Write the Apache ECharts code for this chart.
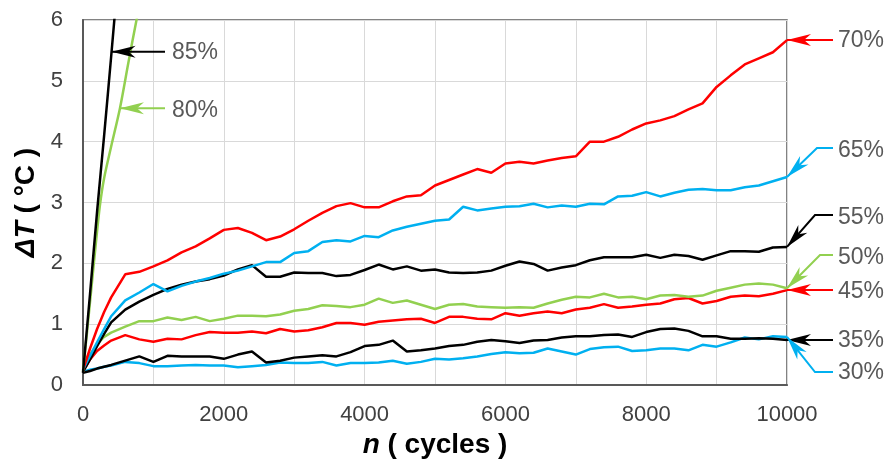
<!DOCTYPE html>
<html>
<head>
<meta charset="utf-8">
<script src="https://cdn.jsdelivr.net/npm/echarts@6/dist/echarts.min.js"></script>
<style>
  html, body { margin: 0; padding: 0; background: #ffffff; }
  #chart { width: 892px; height: 463px; }
</style>
</head>
<body>
<div id="chart"></div>
<script>
// Number of cycles at which ΔT was sampled (shared by the 30 % … 70 % curves)
const cycles = [0, 100, 200, 300, 400, 600, 800, 1000, 1200, 1400, 1600, 1800, 2000, 2200, 2400, 2600, 2800, 3000,
  3200, 3400, 3600, 3800, 4000, 4200, 4400, 4600, 4800, 5000, 5200, 5400, 5600, 5800, 6000, 6200, 6400, 6600,
  6800, 7000, 7200, 7400, 7600, 7800, 8000, 8200, 8400, 8600, 8800, 9000, 9200, 9400, 9600, 9800, 10000];

// Temperature rise ΔT (°C) for each load level
const dT70 = [0.25, 0.6, 0.92, 1.2, 1.44, 1.82, 1.86, 1.95, 2.05, 2.18, 2.28, 2.41, 2.55, 2.58, 2.5, 2.38, 2.44, 2.56,
  2.7, 2.83, 2.94, 2.99, 2.92, 2.92, 3.02, 3.1, 3.12, 3.28, 3.37, 3.46, 3.55, 3.49, 3.64, 3.67, 3.64, 3.69,
  3.73, 3.76, 4.0, 4.0, 4.08, 4.2, 4.3, 4.35, 4.42, 4.53, 4.63, 4.9, 5.09, 5.27, 5.37, 5.47, 5.67];
const dT65 = [0.25, 0.48, 0.7, 0.92, 1.13, 1.39, 1.52, 1.66, 1.54, 1.63, 1.70, 1.76, 1.83, 1.88, 1.95, 2.02, 2.02, 2.17,
  2.2, 2.35, 2.38, 2.36, 2.45, 2.43, 2.54, 2.6, 2.65, 2.7, 2.72, 2.93, 2.87, 2.9, 2.93, 2.94, 2.98, 2.92,
  2.95, 2.93, 2.98, 2.97, 3.1, 3.11, 3.17, 3.1, 3.16, 3.21, 3.22, 3.2, 3.2, 3.25, 3.28, 3.35, 3.42];
const dT55 = [0.22, 0.42, 0.64, 0.84, 1.03, 1.24, 1.37, 1.48, 1.58, 1.65, 1.70, 1.74, 1.8, 1.9, 1.97, 1.78, 1.78, 1.85,
  1.84, 1.84, 1.79, 1.81, 1.89, 1.98, 1.9, 1.95, 1.88, 1.9, 1.85, 1.84, 1.85, 1.88, 1.96, 2.03, 1.99, 1.88,
  1.93, 1.97, 2.05, 2.1, 2.1, 2.1, 2.14, 2.09, 2.14, 2.12, 2.06, 2.13, 2.2, 2.2, 2.19, 2.26, 2.27];
const dT50 = [0.22, 0.5, 0.67, 0.79, 0.86, 0.96, 1.05, 1.05, 1.11, 1.07, 1.12, 1.05, 1.09, 1.14, 1.14, 1.13, 1.16, 1.22,
  1.25, 1.31, 1.3, 1.28, 1.32, 1.42, 1.35, 1.39, 1.32, 1.25, 1.32, 1.33, 1.29, 1.28, 1.27, 1.28, 1.27, 1.34,
  1.40, 1.45, 1.44, 1.5, 1.44, 1.45, 1.41, 1.47, 1.48, 1.45, 1.47, 1.55, 1.6, 1.65, 1.67, 1.65, 1.59];
const dT45 = [0.22, 0.42, 0.56, 0.65, 0.73, 0.82, 0.75, 0.71, 0.76, 0.75, 0.82, 0.87, 0.86, 0.86, 0.88, 0.85, 0.92, 0.88,
  0.9, 0.95, 1.02, 1.02, 0.99, 1.04, 1.06, 1.08, 1.09, 1.02, 1.12, 1.12, 1.09, 1.08, 1.18, 1.14, 1.18, 1.21,
  1.18, 1.24, 1.27, 1.33, 1.27, 1.29, 1.32, 1.34, 1.41, 1.43, 1.34, 1.38, 1.45, 1.47, 1.46, 1.5, 1.56];
const dT35 = [0.2, 0.23, 0.27, 0.3, 0.33, 0.4, 0.47, 0.38, 0.48, 0.47, 0.47, 0.47, 0.43, 0.5, 0.55, 0.37, 0.4, 0.45,
  0.47, 0.49, 0.47, 0.54, 0.64, 0.66, 0.73, 0.55, 0.57, 0.6, 0.64, 0.66, 0.71, 0.74, 0.72, 0.69, 0.73, 0.74,
  0.78, 0.8, 0.8, 0.82, 0.83, 0.79, 0.87, 0.92, 0.93, 0.89, 0.8, 0.8, 0.76, 0.76, 0.77, 0.76, 0.74];
const dT30 = [0.22, 0.25, 0.27, 0.3, 0.32, 0.38, 0.36, 0.31, 0.31, 0.32, 0.33, 0.32, 0.32, 0.29, 0.31, 0.33, 0.37, 0.36,
  0.36, 0.38, 0.32, 0.36, 0.36, 0.37, 0.4, 0.35, 0.38, 0.43, 0.42, 0.44, 0.47, 0.51, 0.54, 0.52, 0.53, 0.6,
  0.55, 0.5, 0.59, 0.62, 0.63, 0.56, 0.57, 0.6, 0.6, 0.57, 0.66, 0.63, 0.7, 0.78, 0.75, 0.8, 0.79];

// The two highest load levels heat up quickly and leave the plotted range early
const cycles85 = [0, 100, 200, 300, 400, 460];
const dT85 = [0.2, 1.5, 2.85, 4.1, 5.4, 6.2];
const cycles80 = [0, 60, 120, 180, 240, 300, 400, 525, 645, 760, 800];
const dT80 = [0.22, 0.9, 1.6, 2.3, 2.95, 3.4, 3.92, 4.55, 5.3, 6.0, 6.2];

// Axis ranges and tick spacing
const xMin = 0, xMax = 10000, xStep = 1000, xLabelStep = 2000;
const yMin = 0, yMax = 6, yStep = 1;

const RED = '#ff0000', BLUE = '#00b0f0', GREEN = '#92d050', BLACK = '#000000';
const FONT = "'Liberation Sans', Arial, sans-serif";

const pairs = (xs, ys) => xs.map((x, i) => [x, ys[i]]);

const curves = [
  { name: '30%', x: cycles, y: dT30, color: BLUE },
  { name: '35%', x: cycles, y: dT35, color: BLACK },
  { name: '45%', x: cycles, y: dT45, color: RED },
  { name: '50%', x: cycles, y: dT50, color: GREEN },
  { name: '55%', x: cycles, y: dT55, color: BLACK },
  { name: '65%', x: cycles, y: dT65, color: BLUE },
  { name: '70%', x: cycles, y: dT70, color: RED },
  { name: '80%', x: cycles80, y: dT80, color: GREEN, smooth: 0.3 },
  { name: '85%', x: cycles85, y: dT85, color: BLACK, smooth: 0.3 }
];

const chart = echarts.init(document.getElementById('chart'), null, { renderer: 'canvas' });

chart.setOption({
  animation: false,
  backgroundColor: '#ffffff',
  grid: {
    left: 83, top: 20, right: 105, bottom: 78,
    show: true, borderColor: '#595959', borderWidth: 1.5,
    outerBoundsMode: 'none'
  },
  xAxis: {
    type: 'value', min: xMin, max: xMax, interval: xStep,
    axisLine: { show: true, lineStyle: { color: '#595959', width: 2 } },
    axisTick: { show: false },
    splitLine: { show: true, lineStyle: { color: '#d9d9d9', width: 1 } },
    axisLabel: {
      margin: 19, color: '#404040', fontSize: 22, fontFamily: FONT,
      formatter: v => (v % xLabelStep === 0 ? String(v) : '')
    },
    name: '{i|n}{r| ( cycles )}',
    nameLocation: 'middle', nameGap: 45,
    nameTextStyle: {
      rich: {
        i: { fontSize: 28, fontWeight: 'bold', fontStyle: 'italic', fontFamily: FONT, color: '#000' },
        r: { fontSize: 28, fontWeight: 'bold', fontFamily: FONT, color: '#000' }
      }
    }
  },
  yAxis: {
    type: 'value', min: yMin, max: yMax, interval: yStep,
    axisLine: { show: true, lineStyle: { color: '#595959', width: 2 } },
    axisTick: { show: false },
    splitLine: { show: true, lineStyle: { color: '#d9d9d9', width: 1 } },
    axisLabel: { margin: 20, color: '#404040', fontSize: 22, fontFamily: FONT },
    name: '{i|ΔT}{r| ( °C )}',
    nameLocation: 'middle', nameGap: 38, nameRotate: 90,
    nameTextStyle: {
      rich: {
        i: { fontSize: 28, fontWeight: 'bold', fontStyle: 'italic', fontFamily: FONT, color: '#000' },
        r: { fontSize: 28, fontWeight: 'bold', fontFamily: FONT, color: '#000' }
      }
    }
  },
  series: curves.map(c => ({
    name: c.name,
    type: 'line',
    data: pairs(c.x, c.y),
    showSymbol: false,
    symbol: 'none',
    smooth: c.smooth || false,
    clip: true,
    lineStyle: { color: c.color, width: 2.5 },
    itemStyle: { color: c.color },
    z: 3
  }))
});

// ---- Callout arrows naming each curve ----
const toPx = (x, y) => chart.convertToPixel({ xAxisIndex: 0, yAxisIndex: 0 }, [x, y]);

// cycle count at which a curve first reaches a given ΔT
function cycleAt(xs, ys, level) {
  for (let i = 1; i < ys.length; i++) {
    if (ys[i] >= level) {
      const t = (level - ys[i - 1]) / (ys[i] - ys[i - 1]);
      return xs[i - 1] + t * (xs[i] - xs[i - 1]);
    }
  }
  return xs[xs.length - 1];
}

function arrowHead(tip, from, color) {
  const dx = tip[0] - from[0], dy = tip[1] - from[1];
  const len = Math.hypot(dx, dy) || 1;
  const ux = dx / len, uy = dy / len;
  const nx = -uy, ny = ux;
  const L = 24, W = 6, K = 17;
  return {
    type: 'polygon',
    shape: {
      points: [
        tip,
        [tip[0] - L * ux + W * nx, tip[1] - L * uy + W * ny],
        [tip[0] - K * ux, tip[1] - K * uy],
        [tip[0] - L * ux - W * nx, tip[1] - L * uy - W * ny]
      ]
    },
    style: { fill: color },
    z: 10
  };
}

function callout(tip, path, color, text, textPos) {
  const pts = [tip].concat(path);
  return [
    { type: 'polyline', shape: { points: pts }, style: { stroke: color, lineWidth: 2, fill: null }, z: 10 },
    arrowHead(tip, path[0], color),
    {
      type: 'text', x: textPos[0], y: textPos[1], z: 10,
      style: { text: text, fill: '#595959', font: '23px ' + FONT, textAlign: 'left', textVerticalAlign: 'middle' }
    }
  ];
}

const byName = Object.fromEntries(curves.map(c => [c.name, c]));
const endTip = name => { const c = byName[name]; return toPx(c.x[c.x.length - 1], c.y[c.y.length - 1]); };

const elements = [];
const textX = 838, stubX = 833;

// right-hand callouts at the curve ends
{
  const t = endTip('70%');
  elements.push(...callout(t, [[stubX, t[1]]], RED, '70%', [textX, t[1] + 1]));
}
{
  const t = endTip('65%');
  elements.push(...callout(t, [[817, 148], [stubX, 148]], BLUE, '65%', [textX, 151]));
}
{
  const t = endTip('55%');
  elements.push(...callout(t, [[815, 215], [stubX, 215]], BLACK, '55%', [textX, 218]));
}
{
  const t = endTip('50%');
  elements.push(...callout(t, [[820, 255], [stubX, 255]], GREEN, '50%', [textX, 258]));
}
{
  const t = endTip('45%');
  elements.push(...callout(t, [[stubX, t[1]]], RED, '45%', [textX, t[1] + 2]));
}
{
  const t = endTip('35%');
  elements.push(...callout(t, [[stubX, t[1]]], BLACK, '35%', [textX, t[1] + 1]));
}
{
  const t = endTip('30%');
  elements.push(...callout(t, [[815, 372], [stubX, 372]], BLUE, '30%', [textX, 373]));
}

// left-hand callouts on the two steep curves
{
  const level = 5.48;
  const t = toPx(cycleAt(cycles85, dT85, level), level);
  elements.push(...callout(t, [[165, t[1]]], BLACK, '85%', [172, t[1] + 1]));
}
{
  const level = 4.55;
  const t = toPx(cycleAt(cycles80, dT80, level), level);
  elements.push(...callout(t, [[165, t[1]]], GREEN, '80%', [172, t[1] + 2]));
}

chart.setOption({ graphic: { elements: elements } });
</script>
</body>
</html>
